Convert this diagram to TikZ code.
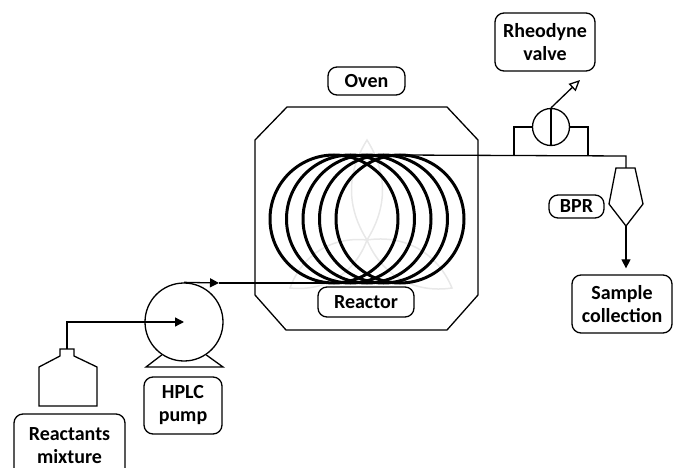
\documentclass[tikz,border=0pt]{standalone}
\usepackage{fontspec}
\setmainfont{Carlito}
\usetikzlibrary{positioning, calc, arrows.meta}

\begin{document}
\begin{tikzpicture}[x=1pt, y=-1pt, line width=1.3pt,
		lbl/.style={draw, rounded corners=9pt, align=center, inner sep=0pt, font=\fontsize{20}{23}\selectfont\bfseries},
		coil/.style={circle, draw, minimum size=128pt, inner sep=0pt, outer sep=0pt, line width=3pt},
		flow/.style={-{Triangle[length=9pt, width=9pt]}},
		vent/.style={-{Triangle[open, length=11pt, width=10pt]}},
		logo/.style={draw=gray!18, line width=1.5pt}]
		\useasboundingbox (0,0) rectangle (673,468);

		% faint logo behind the reactor
		\coordinate (L0) at (367,240);
		\draw[logo] (L0) to[bend left=32] (367,140) to[bend left=32] (L0);
		\draw[logo] (L0) to[bend left=38] (290,288) to[bend left=38] (L0);
		\draw[logo] (L0) to[bend right=38] (452,288) to[bend right=38] (L0);

		% oven
		\draw (255,140) -- (287,107) -- (447,107) -- (478,140) -- (478,295) -- (447,330) -- (286,330) -- (255,295) -- cycle;
		\node[lbl, minimum width=77pt, minimum height=28pt] (oven) at (366.5,81) {Oven};

		% reactor coil
		\foreach \i in {0,...,4}
			\node[coil] (C\i) at (334+16.5*\i,219) {};
		\node[lbl, minimum width=96pt, minimum height=30pt] (reactor) at (366,302) {Reactor};

		% reactants bottle
		\coordinate (neck) at (67,349);
		\draw (60,349) -- (74,349) -- (74,356) -- (97,367) -- (97,406) -- (39,406) -- (39,367) -- (60,356) -- cycle;
		\node[lbl, minimum width=111pt, minimum height=63pt] (mix) at (69.5,445.5) {Reactants\\mixture};

		% HPLC pump
		\node[circle, draw, minimum size=78pt, inner sep=0pt] (pump) at (184,322) {};
		\draw (pump.236) -- (146,367) -- (223,367) -- (pump.304);
		\node[lbl, minimum width=78pt, minimum height=57pt] (hplc) at (183,405.5) {HPLC\\pump};

		\draw[flow] (neck) |- (pump.center);
		\coordinate (F1) at (219,283);
		\draw[flow] (pump.north) -- (F1);
		\draw (F1) -- (C0.south);

		% outlet line, injection valve and BPR
		\coordinate (T1) at (514,156);
		\coordinate (T2) at (588,156);
		\coordinate (T3) at (626,156);
		\coordinate (bprin) at (626,168);
		\coordinate (bprout) at (626,226);
		\draw (C4.north) -- (T3) -- (bprin);

		\node[circle, draw, minimum size=37pt, inner sep=0pt] (valve) at (551,127) {};
		\draw (valve.north) -- (valve.south);
		\draw (valve.west) -| (T1);
		\draw (valve.east) -| (T2);
		\coordinate (ventTip) at (580,80);
		\draw[vent] (valve.north) -- (ventTip);
		\node[lbl, minimum width=100pt, minimum height=58pt] (rheo) at (545,42) {Rheodyne\\valve};

		\draw (616,168) -- (635,168) -- (643,204) -- (bprout) -- (609,204) -- cycle;
		\node[lbl, minimum width=55pt, minimum height=23pt] (bpr) at (576.5,206.5) {BPR};

		\node[lbl, minimum width=100pt, minimum height=58pt] (sample) at (622,304) {Sample\\collection};
		\draw[flow, shorten >=6pt] (bprout) -- (sample.north -| bprout);
	\end{tikzpicture}
\end{document}
